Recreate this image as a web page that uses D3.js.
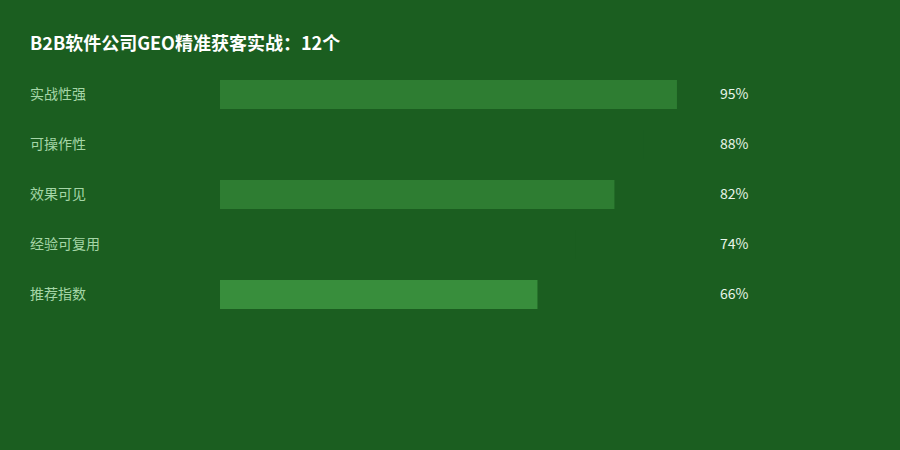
<!DOCTYPE html>
<html>
<head>
<meta charset="utf-8">
<script src="https://cdn.jsdelivr.net/npm/d3@7"></script>
<title>B2B软件公司GEO精准获客实战</title>
<style>
body { margin: 0; background: #1b5e20; }
text { font-family: "Noto Sans CJK SC", "Noto Sans", sans-serif; }
.title { font-size: 18px; font-weight: bold; fill: #ffffff; }
.label { font-size: 14px; fill: #a5d6a7; }
.val { font-size: 14px; fill: #e8f5e9; }
</style>
</head>
<body>
<script>

var title = "B2B软件公司GEO精准获客实战：12个";
var categories = ["实战性强", "可操作性", "效果可见", "经验可复用", "推荐指数"];
var values = [95, 88, 82, 74, 66];
var barColors = ["#2e7d32", "#1b5e20", "#2e7d32", "#1b5e20", "#388e3c"];

var W = 900, H = 450;
var svg = d3.select("body").append("svg").attr("width", W).attr("height", H);

svg.append("rect").attr("width", W).attr("height", H).attr("fill", "#1b5e20");

svg.append("text").attr("class", "title").attr("x", 30).attr("y", 50).text(title);

var x = d3.scaleLinear().domain([0, 100]).range([220, 701]);
var y = d3.scaleBand().domain(categories).range([69.5, 319.5])
	.paddingInner(0.42).paddingOuter(0.21);

var rows = svg.selectAll(".row").data(categories).enter().append("g").attr("class", "row");

rows.append("rect")
	.attr("x", x(0))
	.attr("y", d => y(d))
	.attr("width", (d, i) => x(values[i]) - x(0))
	.attr("height", y.bandwidth())
	.attr("fill", (d, i) => barColors[i]);

rows.append("text").attr("class", "label")
	.attr("x", 30)
	.attr("y", d => y(d) + y.bandwidth() / 2)
	.attr("dy", "0.35em")
	.text(d => d);

rows.append("text").attr("class", "val")
	.attr("x", 720)
	.attr("y", d => y(d) + y.bandwidth() / 2)
	.attr("dy", "0.35em")
	.text((d, i) => values[i] + "%");

</script>
</body>
</html>
